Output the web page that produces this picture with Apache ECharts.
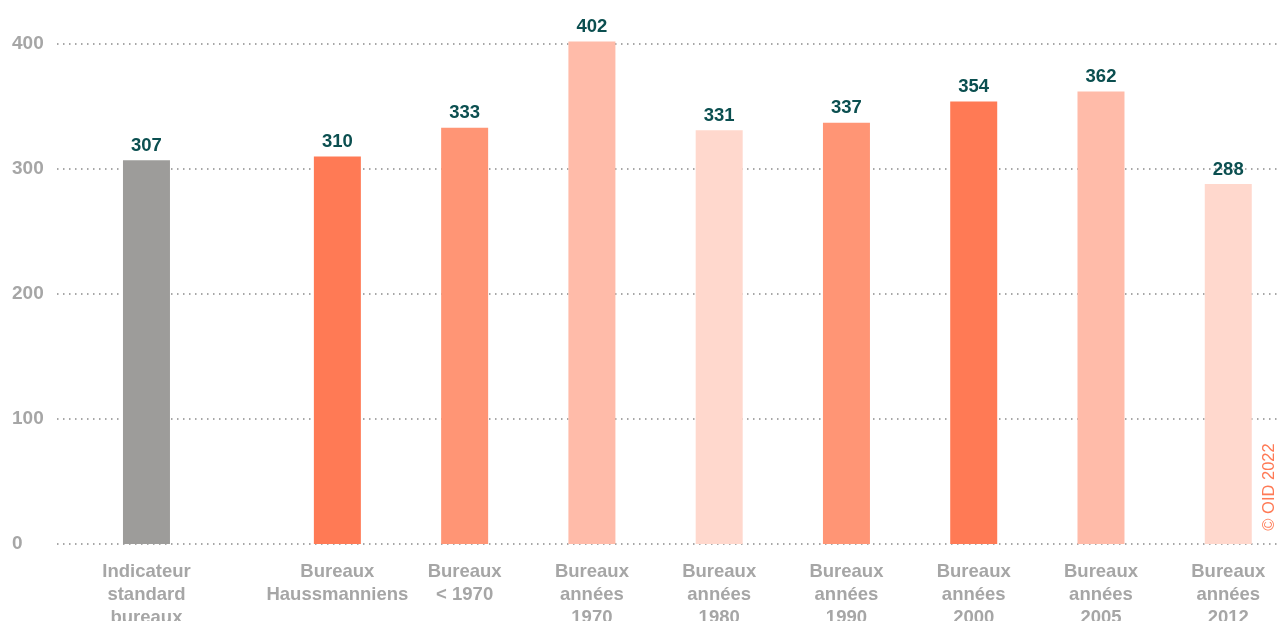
<!DOCTYPE html>
<html><head><meta charset="utf-8">
<script src="https://cdn.jsdelivr.net/npm/echarts@6/dist/echarts.min.js"></script>
<style>html,body{margin:0;padding:0;background:#fff;overflow:hidden}#c{width:1277px;height:621px}</style>
</head><body><div id="c"></div>
<script>
var categories = ['Indicateur\nstandard\nbureaux','Bureaux\nHaussmanniens','Bureaux\n< 1970','Bureaux\nannées\n1970','Bureaux\nannées\n1980','Bureaux\nannées\n1990','Bureaux\nannées\n2000','Bureaux\nannées\n2005','Bureaux\nannées\n2012'];
var positions = [0, 1.5, 2.5, 3.5, 4.5, 5.5, 6.5, 7.5, 8.5];
var values = [307, 310, 333, 402, 331, 337, 354, 362, 288];
var colors = ['#9d9c9a','#ff7a55','#ff9575','#ffbba9','#ffd8cd','#ff9575','#ff7a55','#ffbba9','#ffd8cd'];

var data = values.map(function(v,i){ return {value:[positions[i], v], itemStyle:{color:colors[i]}}; });
var chart = echarts.init(document.getElementById('c'));
chart.setOption({
  animation:false,
  grid:{left:57,right:0,top:44,bottom:77,outerBoundsMode:'none',containLabel:false},
  xAxis:{type:'value',min:-0.703,max:8.883,
    axisLine:{show:false},axisTick:{show:false},splitLine:{show:false},
    axisLabel:{customValues:positions,margin:16.5,color:'#a6a6a6',fontWeight:'bold',fontSize:18.5,lineHeight:23,
      fontFamily:'Liberation Sans, Arial, sans-serif',verticalAlign:'top',hideOverlap:false,
      formatter:function(v){var i=positions.indexOf(v);return i>=0?categories[i]:'';}}},
  yAxis:{type:'value',min:0,max:400,interval:100,
    axisLine:{show:false},axisTick:{show:false},
    splitLine:{lineStyle:{color:'#8a8a8a',type:[1.5,4.5],width:1.5}},
    axisLabel:{align:'left',margin:45,color:'#a6a6a6',fontWeight:'bold',fontSize:19,
      fontFamily:'Liberation Sans, Arial, sans-serif',verticalAlign:'middle',padding:[0,0,5,0]}},
  series:[{type:'bar',data:data,barWidth:47,clip:false,
    label:{show:true,position:'top',distance:5,color:'#0b4f50',fontWeight:'bold',fontSize:18.5,
      fontFamily:'Liberation Sans, Arial, sans-serif',formatter:function(p){return p.value[1];}}}],
  graphic:[{type:'text',x:1269,y:487,rotation:Math.PI/2,
    style:{text:'© OID 2022',fill:'#ff7a55',fontSize:16.5,fontFamily:'Liberation Sans, Arial, sans-serif',
      align:'center',verticalAlign:'middle'}}]
});
</script></body></html>
